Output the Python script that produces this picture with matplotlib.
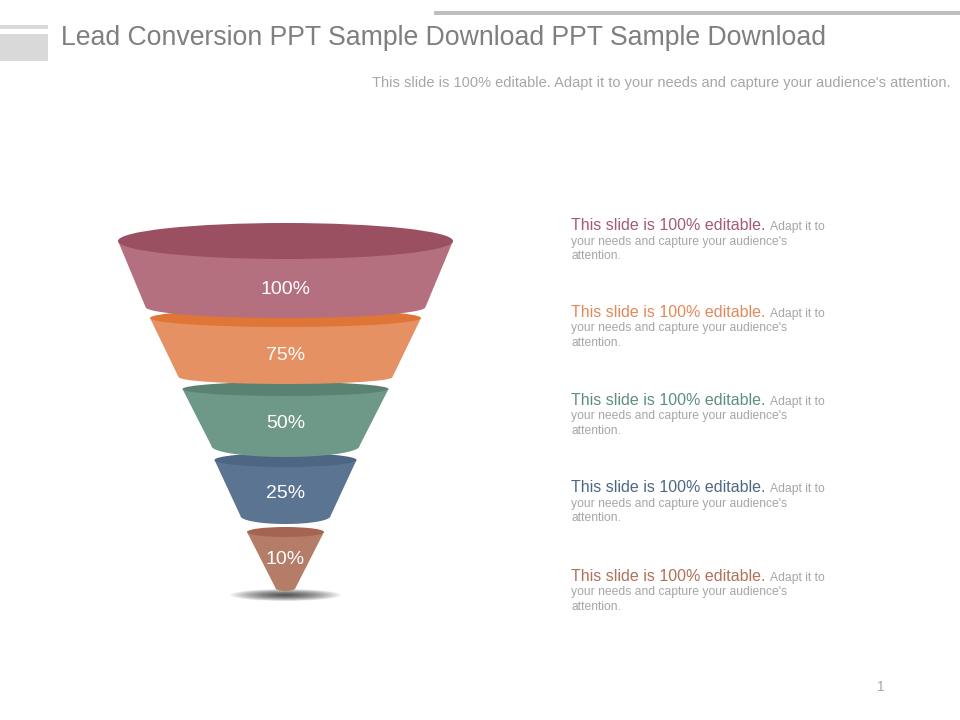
import numpy as np
import matplotlib
matplotlib.use("Agg")
import matplotlib.pyplot as plt
from matplotlib.patches import Polygon, Ellipse, Rectangle

# ---- data ----
stage_labels = ["100%", "75%", "50%", "25%", "10%"]
body_colors = ["#B5707F", "#E59163", "#6E9887", "#5B7491", "#B57C68"]
rim_colors = ["#9B5061", "#DF7536", "#5A8273", "#4C6683", "#A5644F"]
head_colors = ["#A65A6E", "#E2895A", "#5F8E7C", "#4D6883", "#B0705A"]
title = "Lead Conversion PPT Sample Download PPT Sample Download"
subtitle = "This slide is 100% editable. Adapt it to your needs and capture your audience's attention."
head_text = "This slide is 100% editable."
tail_text = "Adapt it to"
body_lines = ["your needs and capture your audience's", "attention."]
page_no = "1"

# ---- layout (pixels) ----
W, H = 960, 720
fig = plt.figure(figsize=(9.6, 7.2), dpi=100)
ax = fig.add_axes([0, 0, 1, 1])
ax.set_xlim(0, W)
ax.set_ylim(H, 0)
ax.axis("off")
FONT = "Liberation Sans"

# decorations
ax.add_patch(Rectangle((434, 11), 526, 4, color="#BFBFBF", lw=0))
ax.add_patch(Rectangle((0, 25), 48, 4, color="#D9D9D9", lw=0))
ax.add_patch(Rectangle((0, 34), 48, 27, color="#D9D9D9", lw=0))
ax.text(61, 38, title, fontsize=19.2, color="#7F7F7F", family=FONT, va="center", ha="left")
ax.text(950, 83, subtitle, fontsize=10.5, color="#A6A6A6", family=FONT, va="center", ha="right")
ax.text(881, 687, page_no, fontsize=10, color="#A6A6A6", family=FONT, va="center", ha="center")

# funnel geometry
cx = 285.5
top_y = [241, 318, 389, 460, 532]
top_hw = [167.5, 135.5, 103, 71, 38.5]
top_hh = [18, 9, 7, 7, 5]
bot_y = [307, 377, 446, 516, 588]
bot_hw = [140, 107, 74, 45, 10]
bot_hh = [11, 7, 11, 8, 3]
label_y = [289, 356, 423, 494, 559]

# shadow under the tip
for k in range(14):
    f = 1 - k / 14
    ax.add_patch(Ellipse((cx, 595), 110 * f, 12 * f, color="#000000", alpha=0.07, lw=0, zorder=1))

n = len(stage_labels)
for i in reversed(range(n)):
    z = 10 + (n - i) * 3
    t = np.linspace(0, np.pi, 60)
    arc_x = cx + bot_hw[i] * np.cos(t)
    arc_y = bot_y[i] + bot_hh[i] * np.sin(t)
    pts = [(cx - top_hw[i], top_y[i]), (cx + top_hw[i], top_y[i])]
    pts += list(zip(arc_x, arc_y))
    ax.add_patch(Polygon(pts, closed=True, color=body_colors[i], lw=0, zorder=z))
    ax.add_patch(Ellipse((cx, top_y[i]), 2 * top_hw[i], 2 * top_hh[i],
                         color=rim_colors[i], lw=0, zorder=z + 1))
    ax.text(cx, label_y[i], stage_labels[i], fontsize=14, color="white", family=FONT,
            ha="center", va="center", zorder=z + 2)

# right-hand texts
fig.canvas.draw()
renderer = fig.canvas.get_renderer()
inv = ax.transData.inverted()
text_y = [230, 317, 405, 492, 581]
for i in range(n):
    t1 = ax.text(571, text_y[i], head_text, fontsize=11.5, color=head_colors[i], family=FONT,
                 ha="left", va="baseline")
    bb = t1.get_window_extent(renderer=renderer)
    x_end = inv.transform((bb.x1, bb.y0))[0] + 4
    ax.text(x_end, text_y[i], tail_text, fontsize=8.75, color="#A6A6A6", family=FONT,
            ha="left", va="baseline")
    for j, line in enumerate(body_lines):
        ax.text(571, text_y[i] + 14.5 * (j + 1), line, fontsize=8.75, color="#A6A6A6",
                family=FONT, ha="left", va="baseline")

fig.savefig("out.png", dpi=100)
